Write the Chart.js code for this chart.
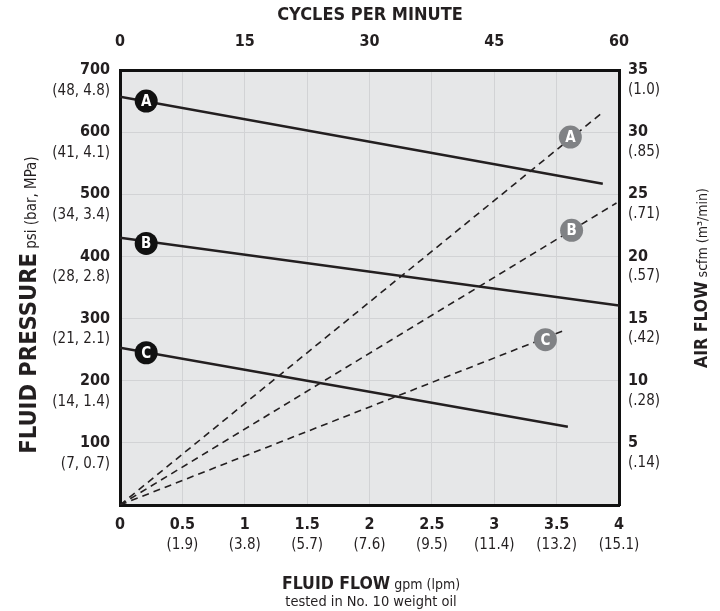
<!DOCTYPE html>
<html>
<head>
<meta charset="utf-8">
<script src="https://cdn.jsdelivr.net/npm/chart.js@4.4.1/dist/chart.umd.min.js"></script>
<style>
    html, body { margin: 0; padding: 0; background: #ffffff; }
    #wrap { width: 720px; height: 611px; }
</style>
</head>
<body>
<div id="wrap"><canvas id="pumpChart" width="720" height="611"></canvas></div>
<script>
// ========================================
// Pump performance curve - fluid pressure / air flow vs fluid flow
// ========================================

const FONT = '"Liberation Sans Narrow", "DejaVu Sans Condensed", "Arial Narrow", sans-serif';
const INK = '#231f20';

// Axis ticks and secondary (metric) tick labels
const flowTicks = [0, 0.5, 1, 1.5, 2, 2.5, 3, 3.5, 4];
const flowLpm = ['', '(1.9)', '(3.8)', '(5.7)', '(7.6)', '(9.5)', '(11.4)', '(13.2)', '(15.1)'];
const cycleTicks = [0, 15, 30, 45, 60];
const pressureTicks = [100, 200, 300, 400, 500, 600, 700];
const pressureMetric = ['(7, 0.7)', '(14, 1.4)', '(21, 2.1)', '(28, 2.8)', '(34, 3.4)', '(41, 4.1)', '(48, 4.8)'];
const airTicks = [5, 10, 15, 20, 25, 30, 35];
const airMetric = ['(.14)', '(.28)', '(.42)', '(.57)', '(.71)', '(.85)', '(1.0)'];

// Fluid pressure curves (psi vs gpm) - solid
const pressFlowA = [0, 3.87];
const pressA = [657, 517];
const pressFlowB = [0, 4];
const pressB = [430, 321];
const pressFlowC = [0, 3.59];
const pressC = [253, 126];

// Air consumption curves (scfm vs gpm) - dashed
const airFlowA = [0, 3.87];
const airA = [0, 31.6];
const airFlowB = [0, 3.98];
const airB = [0, 24.3];
const airFlowC = [0, 3.55];
const airC = [0, 14.0];

// Curve badges
const badgeLetters = ['A', 'B', 'C'];
const pressBadgeFlow = [0.21, 0.21, 0.21];
const pressBadge = [650, 421, 245];
const airBadgeFlow = [3.61, 3.62, 3.41];
const airBadge = [29.6, 22.1, 13.3];

function toPoints(xs, ys) {
    return xs.map((x, i) => ({ x: x, y: ys[i] }));
}

function curve(xs, ys, axis, dashed) {
    return {
        data: toPoints(xs, ys),
        yAxisID: axis,
        showLine: true,
        borderColor: INK,
        borderWidth: dashed ? 1.6 : 2.6,
        borderDash: dashed ? [7, 5] : [],
        pointRadius: 0,
        order: 2
    };
}

function badges(xs, ys, axis, color) {
    return {
        data: toPoints(xs, ys),
        yAxisID: axis,
        showLine: false,
        pointRadius: 11.5,
        pointBackgroundColor: color,
        pointBorderWidth: 0,
        badge: true,
        order: 1
    };
}

// Plot background
const plotBackground = {
    id: 'plotBackground',
    beforeDraw(chart) {
        const { ctx, chartArea: a } = chart;
        ctx.save();
        ctx.fillStyle = '#e6e7e8';
        ctx.fillRect(a.left, a.top, a.right - a.left, a.bottom - a.top);
        ctx.restore();
    }
};

// Letters inside the badges
const badgeLabels = {
    id: 'badgeLabels',
    afterDatasetsDraw(chart) {
        const ctx = chart.ctx;
        ctx.save();
        ctx.fillStyle = '#ffffff';
        ctx.font = 'bold 15px ' + FONT;
        ctx.textAlign = 'center';
        ctx.textBaseline = 'middle';
        chart.data.datasets.forEach((ds, di) => {
            if (!ds.badge) return;
            chart.getDatasetMeta(di).data.forEach((pt, i) => {
                ctx.fillText(badgeLetters[i], pt.x, pt.y + 1);
            });
        });
        ctx.restore();
    }
};

// Metric sub-labels under each tick number + mixed-font axis titles
const axisExtras = {
    id: 'axisExtras',
    afterDraw(chart) {
        const { ctx, scales } = chart;
        ctx.save();
        ctx.fillStyle = INK;
        ctx.textBaseline = 'middle';
        ctx.font = '15px ' + FONT;

        ctx.textAlign = 'center';
        flowTicks.forEach((v, i) => {
            ctx.fillText(flowLpm[i], scales.x.getPixelForValue(v), 545);
        });

        ctx.textAlign = 'right';
        pressureTicks.forEach((v, i) => {
            ctx.fillText(pressureMetric[i], 110, scales.y.getPixelForValue(v) + 21);
        });

        ctx.textAlign = 'left';
        airTicks.forEach((v, i) => {
            ctx.fillText(airMetric[i], 628, scales.yAir.getPixelForValue(v) + 20);
        });

        // top title
        ctx.textAlign = 'center';
        ctx.font = 'bold 18px ' + FONT;
        ctx.fillText('CYCLES PER MINUTE', 370, 15);

        // bottom title
        mixedTitle(ctx, 'FLUID FLOW', 17.5, ' gpm (lpm)', 14, 371, 589, 0);
        ctx.textAlign = 'center';
        ctx.textBaseline = 'middle';
        ctx.font = '14.5px ' + FONT;
        ctx.fillText('tested in No. 10 weight oil', 371, 602);

        // side titles
        mixedTitle(ctx, 'FLUID PRESSURE', 23.5, ' psi (bar, MPa)', 15, 36, 305, -Math.PI / 2);
        mixedTitle(ctx, 'AIR FLOW', 17.5, ' scfm (m\u00b3/min)', 14, 707, 278, -Math.PI / 2);
        ctx.restore();
    }
};

function mixedTitle(ctx, boldText, boldSize, thinText, thinSize, cx, baseline, angle) {
    ctx.save();
    ctx.translate(cx, baseline);
    ctx.rotate(angle);
    ctx.textBaseline = 'alphabetic';
    ctx.textAlign = 'left';
    ctx.font = 'bold ' + boldSize + 'px ' + FONT;
    const wb = ctx.measureText(boldText).width;
    ctx.font = thinSize + 'px ' + FONT;
    const wt = ctx.measureText(thinText).width;
    const start = -(wb + wt) / 2;
    ctx.font = 'bold ' + boldSize + 'px ' + FONT;
    ctx.fillText(boldText, start, 0);
    ctx.font = thinSize + 'px ' + FONT;
    ctx.fillText(thinText, start + wb, 0);
    ctx.restore();
}

const tickFont = { family: FONT, size: 16, weight: 'bold' };
const frame = { display: true, width: 3, color: '#111111' };

new Chart(document.getElementById('pumpChart'), {
    type: 'scatter',
    data: {
        datasets: [
            badges(pressBadgeFlow, pressBadge, 'y', '#111111'),
            badges(airBadgeFlow, airBadge, 'yAir', '#808285'),
            curve(pressFlowA, pressA, 'y', false),
            curve(pressFlowB, pressB, 'y', false),
            curve(pressFlowC, pressC, 'y', false),
            curve(airFlowA, airA, 'yAir', true),
            curve(airFlowB, airB, 'yAir', true),
            curve(airFlowC, airC, 'yAir', true)
        ]
    },
    options: {
        responsive: false,
        animation: false,
        layout: { padding: 0 },
        plugins: {
            legend: { display: false },
            tooltip: { enabled: false }
        },
        scales: {
            x: {
                type: 'linear',
                position: 'bottom',
                min: 0,
                max: 4,
                afterBuildTicks: s => { s.ticks = flowTicks.map(v => ({ value: v })); },
                afterFit: s => { s.height = 106; },
                ticks: { font: tickFont, color: INK, padding: 10, maxRotation: 0, autoSkip: false, callback: v => String(v) },
                grid: { color: '#d2d3d5', lineWidth: 1, drawTicks: false },
                border: frame
            },
            xTop: {
                type: 'linear',
                position: 'top',
                min: 0,
                max: 60,
                afterBuildTicks: s => { s.ticks = cycleTicks.map(v => ({ value: v })); },
                afterFit: s => { s.height = 70; },
                ticks: { font: tickFont, color: INK, padding: 19, maxRotation: 0, autoSkip: false, callback: v => String(v) },
                grid: { display: false, drawTicks: false },
                border: frame
            },
            y: {
                type: 'linear',
                position: 'left',
                min: 0,
                max: 700,
                afterBuildTicks: s => { s.ticks = [0].concat(pressureTicks).map(v => ({ value: v })); },
                afterFit: s => { s.width = 120; },
                ticks: { font: tickFont, color: INK, padding: 10, callback: v => (v === 0 ? '' : String(v)) },
                grid: { color: '#d2d3d5', lineWidth: 1, drawTicks: false },
                border: frame
            },
            yAir: {
                type: 'linear',
                position: 'right',
                min: 0,
                max: 35,
                afterBuildTicks: s => { s.ticks = [0].concat(airTicks).map(v => ({ value: v })); },
                afterFit: s => { s.width = 101; },
                ticks: { font: tickFont, color: INK, padding: 9, callback: v => (v === 0 ? '' : String(v)) },
                grid: { display: false, drawTicks: false },
                border: frame
            }
        }
    },
    plugins: [plotBackground, badgeLabels, axisExtras]
});
</script>
</body>
</html>
